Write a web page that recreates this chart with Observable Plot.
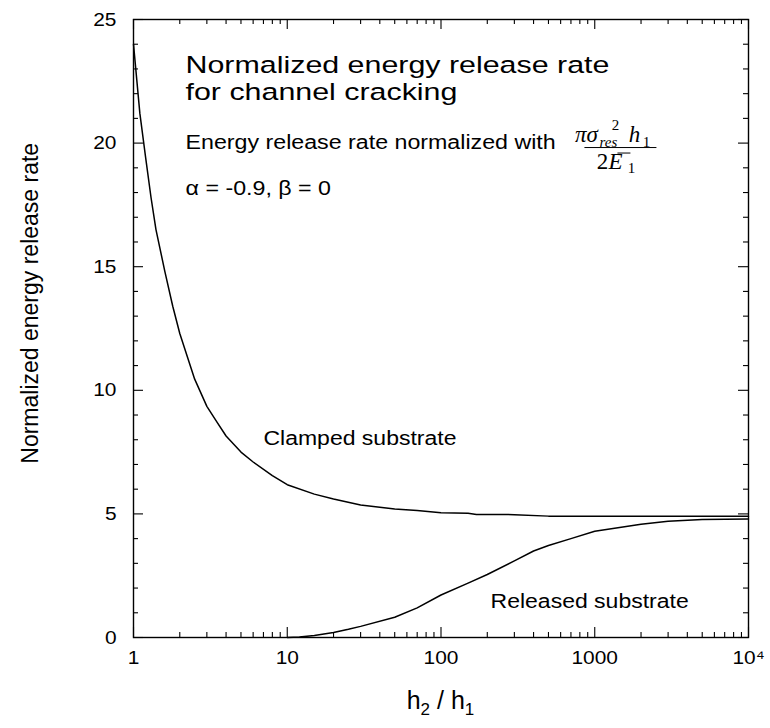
<!DOCTYPE html>
<html><head><meta charset="utf-8">
<script src="https://cdn.jsdelivr.net/npm/d3@7"></script>
<script src="https://cdn.jsdelivr.net/npm/@observablehq/plot@0.6"></script>
<style>html,body{margin:0;padding:0;background:#fff} svg{display:block}</style>
</head><body><div id="chart"></div>
<script>
// ---- data ----
const clampedX = [1, 1.1, 1.2, 1.3, 1.4, 1.6, 1.8, 2, 2.5, 3, 3.5, 4, 5, 6, 8, 10, 15, 20, 30, 50, 70, 100, 150, 170, 300, 500, 1000, 10000];
const clampedY = [24.0, 21.2, 19.4, 17.8, 16.5, 14.8, 13.4, 12.3, 10.45, 9.35, 8.7, 8.15, 7.5, 7.1, 6.55, 6.18, 5.8, 5.6, 5.36, 5.2, 5.14, 5.05, 5.03, 4.98, 4.97, 4.91, 4.9, 4.9];
const releasedX = [10, 12, 15, 20, 25, 30, 50, 70, 100, 150, 200, 300, 400, 500, 700, 1000, 2000, 3000, 5000, 10000];
const releasedY = [0.0, 0.02, 0.08, 0.2, 0.33, 0.45, 0.82, 1.2, 1.72, 2.2, 2.55, 3.1, 3.5, 3.72, 4.0, 4.3, 4.58, 4.7, 4.77, 4.79];
const xMajorTicks = [1, 10, 100, 1000, 10000];
const xTickLabels = ["1", "10", "100", "1000", "10\u2074"];
const yMajorTicks = [0, 5, 10, 15, 20, 25];
const yMinorTicks = [1, 2, 3, 4, 6, 7, 8, 9, 11, 12, 13, 14, 16, 17, 18, 19, 21, 22, 23, 24];
const titleLines = ["Normalized energy release rate", "for channel cracking"];
const noteLines = ["Energy release rate normalized with", "\u03b1 = -0.9, \u03b2 = 0"];
const curveLabels = ["Clamped substrate", "Released substrate"];
const yAxisLabel = "Normalized energy release rate";

// annotation anchors (data coordinates)
const titleAnchors = [{x: 2.18, y: 22.84}, {x: 2.18, y: 21.73}];
const noteAnchors = [{x: 2.18, y: 19.78}, {x: 2.18, y: 17.92}];
const curveLabelAnchors = [{x: 7.0, y: 7.8}, {x: 210, y: 1.2}];
const formulaAnchor = {x: 1480, y: 19.8};

// ---- build tables ----
const clamped = clampedX.map((x, i) => ({x, y: clampedY[i]}));
const released = releasedX.map((x, i) => ({x, y: releasedY[i]}));
const xMinorTicks = [];
for (let d = 1; d < 10000; d *= 10) for (let k = 2; k <= 9; k++) xMinorTicks.push(d * k);
const titles = titleLines.map((t, i) => ({text: t, ...titleAnchors[i]}));
const notes = noteLines.map((t, i) => ({text: t, ...noteAnchors[i]}));
const labels = curveLabels.map((t, i) => ({text: t, ...curveLabelAnchors[i]}));

const W = 770, H = 728, mT = 19, mR = 22, mB = 91, mL = 133;
const plotH = H - mT - mB, plotW = W - mL - mR;
const majorLen = 10, minorLen = 5;

function formulaMark(index, {x, y}) {
  const cx = x(formulaAnchor.x), cy = y(formulaAnchor.y);
  const g = d3.create("svg:g").attr("font-family", "'Liberation Serif','Times New Roman',serif").attr("fill", "black");
  const t = (str, dx, dy, size, italic) => g.append("text").attr("x", cx + dx).attr("y", cy + dy)
    .attr("font-size", size).attr("font-style", italic ? "italic" : "normal").text(str);
  t("\u03c0\u03c3", -34, -6, 23, true);
  t("2", -5, -18, 15, false);
  t("res", -12, -1, 15, true);
  t("h", 14, -6, 23, true);
  t("1", 26, -1, 15, false);
  g.append("line").attr("x1", cx - 36).attr("x2", cx + 36).attr("y1", cy).attr("y2", cy).attr("stroke", "black").attr("stroke-width", 1);
  t("2", -18, 21, 23, false);
  t("E", -5, 21, 23, true);
  g.append("line").attr("x1", cx - 3).attr("x2", cx + 10).attr("y1", cy + 5.5).attr("y2", cy + 5.5).attr("stroke", "black").attr("stroke-width", 1);
  t("1", 11, 25, 15, false);
  return g.node();
}

function axisLabels(index, scales, values, dims) {
  const g = d3.create("svg:g").attr("fill", "black").attr("font-family", "'Liberation Sans',Arial,sans-serif");
  const cx = (dims.marginLeft + dims.width - dims.marginRight) / 2;
  const tx = g.append("text").attr("x", cx).attr("y", dims.height - dims.marginBottom + 72)
    .attr("text-anchor", "middle").attr("font-size", 25);
  tx.append("tspan").text("h");
  tx.append("tspan").attr("font-size", 17).attr("dy", 6).text("2");
  tx.append("tspan").attr("dy", -6).text(" / h");
  tx.append("tspan").attr("font-size", 17).attr("dy", 6).text("1");
  const cy = dims.marginTop + (dims.height - dims.marginTop - dims.marginBottom) * 0.46;
  g.append("text").attr("transform", `translate(38,${cy}) rotate(-90)`).attr("text-anchor", "middle")
    .attr("font-size", 23).text(yAxisLabel);
  return g.node();
}

const annot = (data, size) => Plot.text(data, {x: "x", y: "y", text: "text", textAnchor: "start", lineAnchor: "bottom", fontSize: size, fill: "black"});

const plot = Plot.plot({
  width: W, height: H,
  marginTop: mT, marginRight: mR, marginBottom: mB, marginLeft: mL,
  style: {fontFamily: "'Liberation Sans', Arial, sans-serif", fontSize: "19px", color: "black", background: "white"},
  x: {type: "log", domain: [1, 10000]},
  y: {domain: [0, 25]},
  marks: [
    // ticks, inward on all four sides
    Plot.ruleX(xMajorTicks, {x: d => d, insetTop: plotH - majorLen, stroke: "black", strokeWidth: 1.1}),
    Plot.ruleX(xMajorTicks, {x: d => d, insetBottom: plotH - majorLen, stroke: "black", strokeWidth: 1.1}),
    Plot.ruleX(xMinorTicks, {x: d => d, insetTop: plotH - minorLen, stroke: "black", strokeWidth: 1.1}),
    Plot.ruleX(xMinorTicks, {x: d => d, insetBottom: plotH - minorLen, stroke: "black", strokeWidth: 1.1}),
    Plot.ruleY(yMajorTicks, {y: d => d, insetRight: plotW - majorLen, stroke: "black", strokeWidth: 1.1}),
    Plot.ruleY(yMajorTicks, {y: d => d, insetLeft: plotW - majorLen, stroke: "black", strokeWidth: 1.1}),
    Plot.ruleY(yMinorTicks, {y: d => d, insetRight: plotW - minorLen, stroke: "black", strokeWidth: 1.1}),
    Plot.ruleY(yMinorTicks, {y: d => d, insetLeft: plotW - minorLen, stroke: "black", strokeWidth: 1.1}),
    Plot.frame({stroke: "black", strokeWidth: 1.4}),
    Plot.axisX(xMajorTicks, {tickSize: 0, tickPadding: 13, fontSize: 19, label: null,
      tickFormat: d => xTickLabels[xMajorTicks.indexOf(d)]}),
    Plot.axisY(yMajorTicks, {tickSize: 0, tickPadding: 17, fontSize: 19, label: null}),
    Plot.line(clamped, {x: "x", y: "y", stroke: "black", strokeWidth: 1.5}),
    Plot.line(released, {x: "x", y: "y", stroke: "black", strokeWidth: 1.5}),
    annot(titles, 24.5),
    annot(notes, 19.5),
    annot(labels, 20),
    formulaMark,
    axisLabels
  ]
});
document.getElementById("chart").appendChild(plot);
// the reference lettering is a little wider than Liberation Sans: stretch it horizontally
const stretchText = (t, k) => {
  const w = t.getComputedTextLength();
  if (w > 0) { t.setAttribute("textLength", w * k); t.setAttribute("lengthAdjust", "spacingAndGlyphs"); }
};
plot.querySelectorAll('g[aria-label="text"]').forEach((g, i) => {
  const k = i === 0 ? 1.24 : i === 1 ? 1.19 : 1.15;
  g.querySelectorAll("text").forEach(t => stretchText(t, k));
});
plot.querySelectorAll('g[aria-label="x-axis tick label"] text, g[aria-label="y-axis tick label"] text')
  .forEach(t => stretchText(t, 1.1));
</script>
</body></html>
